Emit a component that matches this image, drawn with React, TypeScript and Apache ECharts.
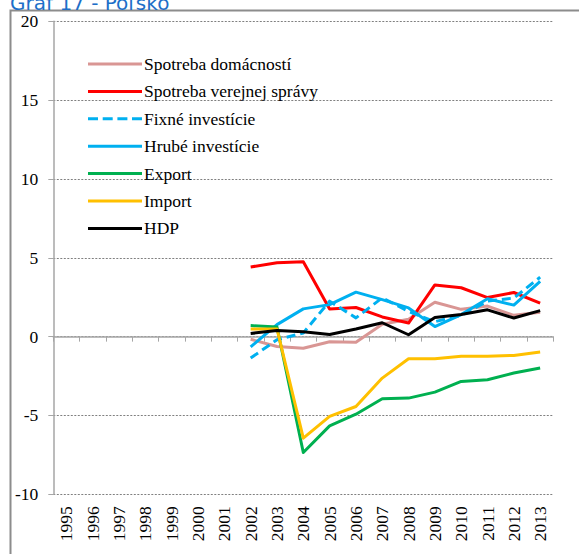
import React, { useEffect, useRef } from "react";
import * as echarts from "echarts";

const years = ["1995","1996","1997","1998","1999","2000","2001","2002","2003","2004","2005","2006","2007","2008","2009","2010","2011","2012","2013"];
const lead = [null, null, null, null, null, null, null];

const spotrebaDomacnosti = [...lead, -0.17, -0.63, -0.74, -0.32, -0.36, 0.78, 1.1, 2.18, 1.73, 1.94, 1.35, 1.55];
const spotrebaVerejnej = [...lead, 4.42, 4.68, 4.75, 1.75, 1.85, 1.25, 0.86, 3.28, 3.1, 2.48, 2.8, 2.12];
const fixneInvesticie = [...lead, -1.36, -0.2, 0.23, 2.25, 1.19, 2.46, 1.6, 0.95, 1.35, 2.25, 2.45, 3.77];
const hrubeInvesticie = [...lead, -0.65, 0.76, 1.76, 2.03, 2.82, 2.35, 1.82, 0.64, 1.4, 2.4, 2.0, 3.5];
const exportData = [...lead, 0.7, 0.61, -7.35, -5.66, -4.92, -3.94, -3.9, -3.52, -2.84, -2.73, -2.31, -1.99];
const importData = [...lead, 0.49, 0.49, -6.44, -5.06, -4.43, -2.63, -1.4, -1.4, -1.25, -1.25, -1.19, -0.97];
const hdp = [...lead, 0.2, 0.39, 0.31, 0.14, 0.48, 0.88, 0.12, 1.22, 1.41, 1.7, 1.18, 1.65];

const seriesNames = ["Spotreba domácností", "Spotreba verejnej správy", "Fixné investície", "Hrubé investície", "Export", "Import", "HDP"];
const seriesColors = ["#D99694", "#FF0000", "#00B0F0", "#00B0F0", "#00B050", "#FFC000", "#000000"];
const seriesData = [spotrebaDomacnosti, spotrebaVerejnej, fixneInvesticie, hrubeInvesticie, exportData, importData, hdp];
const seriesDashed = [false, false, true, false, false, false, false];

const serif = "Times New Roman, Liberation Serif, DejaVu Serif, serif";
const dashIcon = "path://M0,0h10v3h-10z M14.7,0h10v3h-10z M29.4,0h10v3h-10z M44,0h10v3h-10z";
const solidIcon = "path://M0,0h54v3h-54z";

export default function App() {
  const ref = useRef<HTMLDivElement>(null);
  useEffect(() => {
    if (!ref.current) return;
    const chart = echarts.init(ref.current, null, { renderer: "svg" });
    chart.setOption({
      animation: false,
      backgroundColor: "#ffffff",
      graphic: [
        {
          type: "rect",
          shape: { x: 10.5, y: 10.5, width: 700, height: 700 },
          style: { fill: "none", stroke: "#8C8C8C", lineWidth: 2 },
          z: 0,
        },
        {
          type: "text",
          x: 10,
          y: 12.5,
          style: {
            text: "Graf 17 - Poľsko",
            fill: "#1E6FC8",
            font: "20px DejaVu Sans",
            textVerticalAlign: "bottom",
          },
        },
      ],
      legend: {
        orient: "vertical",
        left: 83,
        top: 50,
        itemWidth: 54,
        itemHeight: 3,
        itemGap: 9.4,
        textStyle: { fontFamily: serif, fontSize: 17.5, color: "#000", lineHeight: 18, padding: [0, 0, 0, -3] },
        data: seriesNames.map((name, i) => ({
          name,
          icon: seriesDashed[i] ? dashIcon : solidIcon,
          itemStyle: { color: seriesColors[i], borderWidth: 0 },
        })),
      },
      grid: { left: 53.3, right: 25.7, top: 21.3, bottom: 59.7, containLabel: false },
      xAxis: [
        {
          type: "category",
          data: years,
          position: "bottom",
          boundaryGap: true,
          axisLine: { show: false, onZero: false },
          axisTick: { show: false },
          axisLabel: { rotate: 90, interval: 0, margin: 12, fontFamily: serif, fontSize: 17.5, color: "#000" },
          splitLine: { show: false },
        },
        {
          type: "category",
          data: years,
          position: "bottom",
          boundaryGap: true,
          axisLine: { show: true, onZero: true, onZeroAxisIndex: 0, lineStyle: { color: "#A6A6A6", width: 1.5 } },
          axisTick: { show: true, length: 5, interval: 0, lineStyle: { color: "#A6A6A6", width: 1 } },
          axisLabel: { show: false },
          splitLine: { show: false },
        },
      ],
      yAxis: {
        type: "value",
        min: -10,
        max: 20,
        interval: 5,
        axisLine: { show: true, lineStyle: { color: "#A6A6A6", width: 1.5 } },
        axisTick: { show: true, length: 5, lineStyle: { color: "#A6A6A6" } },
        axisLabel: { margin: 15, fontFamily: serif, fontSize: 17.5, color: "#000" },
        splitLine: { show: true, lineStyle: { color: "#808080", width: 1, type: [2, 1.5] } },
      },
      series: seriesNames.map((name, i) => ({
        name,
        type: "line",
        xAxisIndex: 0,
        yAxisIndex: 0,
        data: seriesData[i],
        symbol: "none",
        showSymbol: false,
        connectNulls: false,
        color: seriesColors[i],
        lineStyle: {
          color: seriesColors[i],
          width: 3,
          type: seriesDashed[i] ? [9, 5] : "solid",
          cap: "butt",
          join: "round",
        },
        z: 2 + i,
      })),
    });
    return () => chart.dispose();
  }, []);
  return (
    <div
      ref={ref}
      style={{ position: "fixed", left: 0, top: 0, width: 579, height: 554, background: "#fff" }}
    />
  );
}
